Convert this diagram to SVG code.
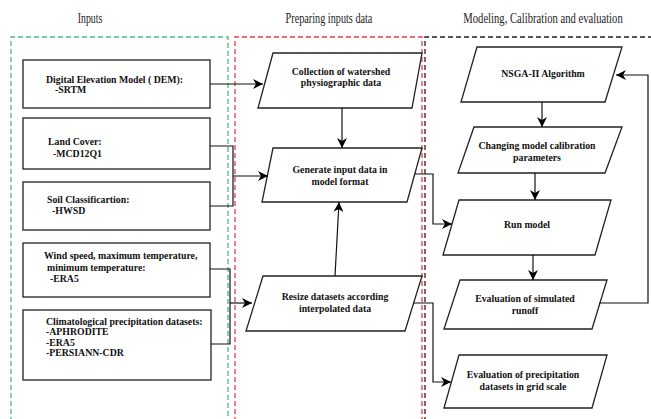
<svg xmlns="http://www.w3.org/2000/svg" width="651" height="419" viewBox="0 0 651 419">
<defs>
<marker id="ah" viewBox="0 0 10 10" refX="10" refY="5" markerWidth="10" markerHeight="10" markerUnits="userSpaceOnUse" orient="auto">
<path d="M0,0 L10,5 L0,10 L3,5 z" fill="#000"/>
</marker>
<style>
text{font-family:'Liberation Serif','Times New Roman',serif}
.title{font-size:14px;fill:#222;text-anchor:middle}
.t{font-size:9.8px;font-weight:bold;fill:#111}
.tc{font-size:9.8px;font-weight:bold;fill:#111;text-anchor:middle}
.box{fill:#fff;stroke:#222;stroke-width:1.3}
.c{fill:none;stroke:#111;stroke-width:1.2}
.ca{fill:none;stroke:#111;stroke-width:1.2;marker-end:url(#ah)}
</style>
</defs>
<rect width="651" height="419" fill="#fff"/>
<text class="title" transform="translate(90,23) scale(0.7,1)">Inputs</text>
<text class="title" transform="translate(329,23) scale(0.73,1)">Preparing inputs data</text>
<text class="title" transform="translate(543,23) scale(0.76,1)">Modeling, Calibration and evaluation</text>
<g id="regions">
<path d="M11,430 L11,37 L228,37 L228,430" fill="none" stroke="#4cb884" stroke-width="1.3" stroke-dasharray="5,3"/>
<path d="M235,430 L235,37 L422,37 L422,430" fill="none" stroke="#e84040" stroke-width="1.3" stroke-dasharray="5,3"/>
<path d="M425,430 L425,37 L660,37" fill="none" stroke="#222" stroke-width="1.3" stroke-dasharray="5,3"/>
</g>
<g id="dem"><rect class="box" x="23" y="60" width="187" height="48"/>
<text class="t" x="46" y="83">Digital Elevation Model ( DEM):</text>
<text class="t" x="55" y="93">-SRTM</text></g>
<g id="landcover"><rect class="box" x="23" y="118" width="187" height="51"/>
<text class="t" x="48" y="145">Land Cover:</text>
<text class="t" x="53" y="157">-MCD12Q1</text></g>
<g id="soil"><rect class="box" x="23" y="182" width="187" height="48"/>
<text class="t" x="47" y="203">Soil Classificartion:</text>
<text class="t" x="52" y="214">-HWSD</text></g>
<g id="wind"><rect class="box" x="23" y="243" width="187" height="54"/>
<text class="t" x="44" y="259">Wind speed, maximum temperature,</text>
<text class="t" x="47" y="271">minimum temperature:</text>
<text class="t" x="50" y="282">-ERA5</text></g>
<g id="climate"><rect class="box" x="23" y="310" width="188" height="70"/>
<text class="t" x="46" y="325">Climatological precipitation datasets:</text>
<text class="t" x="46" y="335">-APHRODITE</text>
<text class="t" x="46" y="346">-ERA5</text>
<text class="t" x="46" y="356">-PERSIANN-CDR</text></g>
<g id="collection"><polygon class="box" points="273,53 422,53 412,108 258,108"/>
<text class="tc" x="341" y="75">Collection of watershed</text>
<text class="tc" x="341" y="86">physiographic data</text></g>
<g id="generate"><polygon class="box" points="273,148 422,148 407,202 262,202"/>
<text class="tc" x="340" y="173">Generate input data in</text>
<text class="tc" x="340" y="185">model format</text></g>
<g id="resize"><polygon class="box" points="263,276 422,276 405,331 246,331"/>
<text class="tc" x="335" y="300">Resize datasets according</text>
<text class="tc" x="335" y="312">interpolated data</text></g>
<g id="nsga"><polygon class="box" points="477,47 622,47 605,102 461,102"/>
<text class="tc" x="543" y="77">NSGA-II Algorithm</text></g>
<g id="changing"><polygon class="box" points="474,127 622,127 605,173 458,173"/>
<text class="tc" x="537" y="149">Changing model calibration</text>
<text class="tc" x="537" y="161">parameters</text></g>
<g id="run"><polygon class="box" points="459,200 611,200 595,255 443,255"/>
<text class="tc" x="527" y="228">Run model</text></g>
<g id="evalrunoff"><polygon class="box" points="460,280 607,280 592,329 444,329"/>
<text class="tc" x="525" y="302">Evaluation of simulated</text>
<text class="tc" x="525" y="314">runoff</text></g>
<g id="evalprecip"><polygon class="box" points="459,355 607,355 592,408 444,408"/>
<text class="tc" x="523" y="378">Evaluation of precipitation</text>
<text class="tc" x="523" y="390">datasets in grid scale</text></g>
<g id="connectors">
<path class="ca" d="M210,84 L263,84"/>
<path class="ca" d="M342,108 L342,148"/>
<path class="c" d="M210,146 L233,146 L233,206 L210,206"/>
<path class="ca" d="M233,176 L268,176"/>
<path class="c" d="M210,269 L230,269 L230,344 L211,344"/>
<path class="ca" d="M230,303 L252,303"/>
<path class="ca" d="M335,276 L339,202"/>
<path class="ca" d="M415,174 L433,174 L433,224 L452,224"/>
<path class="ca" d="M413,303 L433,303 L433,382 L451,382"/>
<path class="ca" d="M542,102 L542,127"/>
<path class="ca" d="M535,173 L535,200"/>
<path class="ca" d="M533,255 L533,280"/>
<path class="ca" d="M599,303 L648,303 L648,75 L616,75"/>
</g>
</svg>
